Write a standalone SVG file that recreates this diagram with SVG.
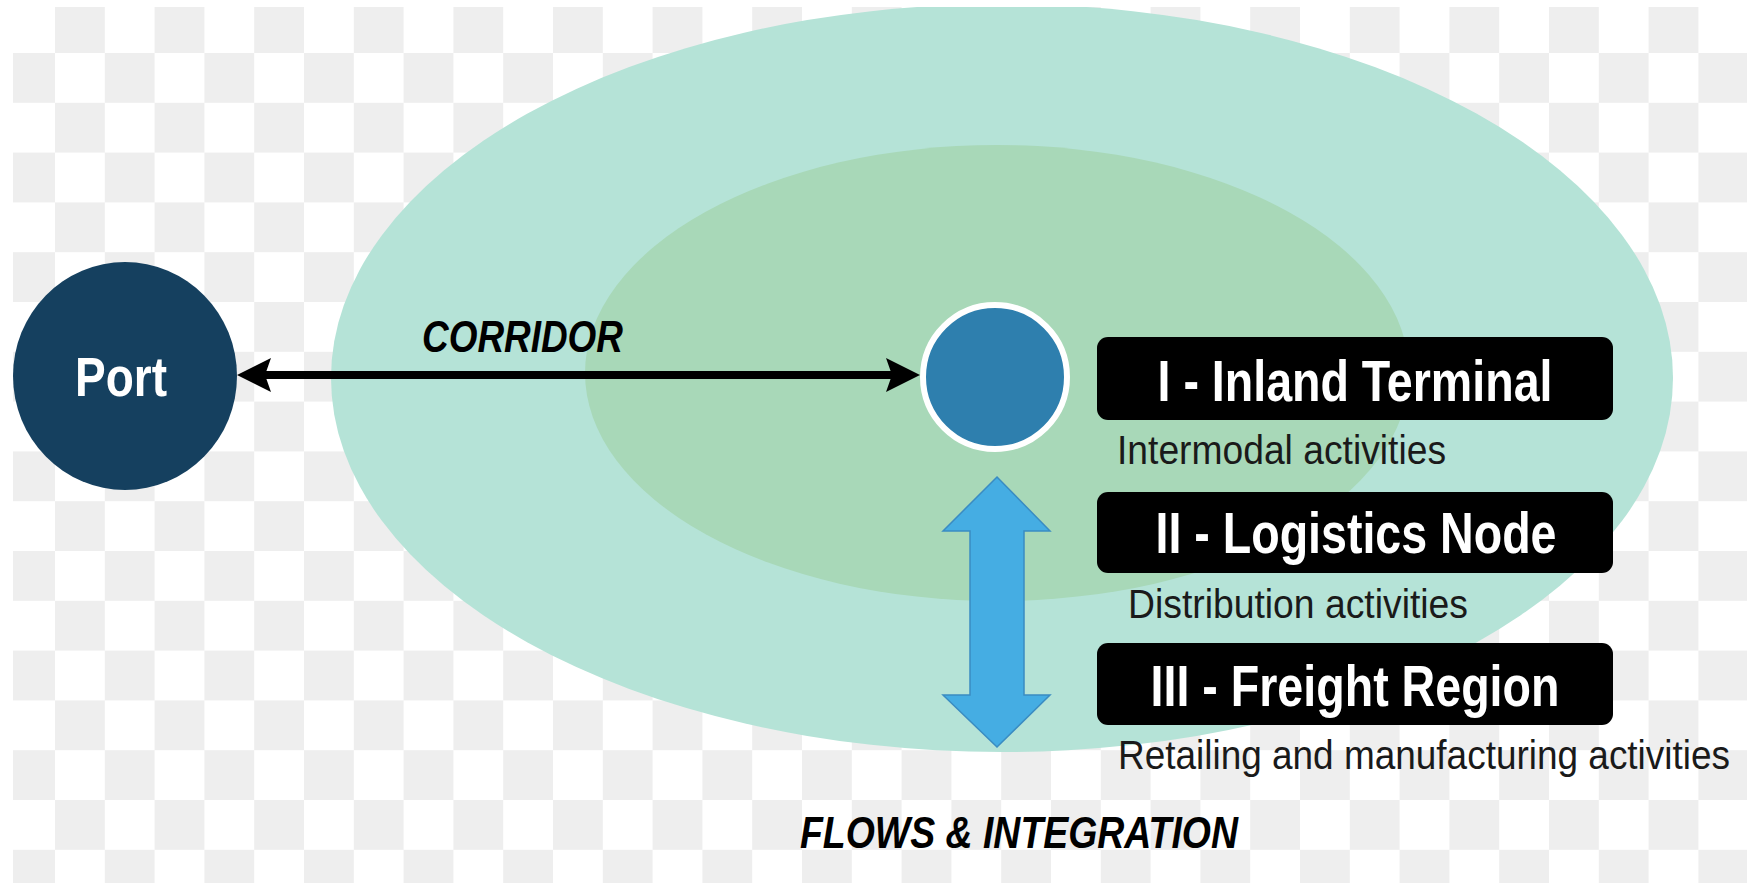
<svg xmlns="http://www.w3.org/2000/svg" width="1747" height="883" viewBox="0 0 1747 883">
  <defs>
    <pattern id="checker" patternUnits="userSpaceOnUse" x="5.2" y="3.2" width="99.6" height="99.6">
      <rect x="0" y="0" width="99.6" height="99.6" fill="#ffffff"/>
      <rect x="49.8" y="0" width="49.8" height="49.8" fill="#eeeeee"/>
      <rect x="0" y="49.8" width="49.8" height="49.8" fill="#eeeeee"/>
    </pattern>
    <clipPath id="frame">
      <rect x="13" y="7" width="1734" height="876"/>
    </clipPath>
    <marker id="head" viewBox="0 0 34 34" refX="14" refY="17" markerWidth="34" markerHeight="34" markerUnits="userSpaceOnUse" orient="auto-start-reverse">
      <path d="M0,0 L34,17 L0,34 L6,17 Z" fill="#000000"/>
    </marker>
    <style>
      .label { font-family: "Liberation Sans", Arial, sans-serif; }
      .hdr { font-family: "Liberation Sans", Arial, sans-serif; font-weight: bold; font-size: 57px; fill: #ffffff; }
      .sub { font-family: "Liberation Sans", Arial, sans-serif; font-size: 40px; fill: #1a1a1a; }
      .ital { font-family: "Liberation Sans", Arial, sans-serif; font-weight: bold; font-style: italic; font-size: 45px; fill: #000000; }
      .box { fill: #000000; }
    </style>
  </defs>

  <rect x="0" y="0" width="1747" height="883" fill="#ffffff"/>
  <g clip-path="url(#frame)">
    <rect x="0" y="0" width="1747" height="883" fill="url(#checker)"/>

    <g id="freight-region-zone">
      <ellipse cx="1002" cy="378" rx="671" ry="374" fill="#b5e3d7"/>
    </g>
    <g id="logistics-node-zone">
      <ellipse cx="997" cy="373" rx="412" ry="228" fill="#a8d8b8"/>
    </g>

    <g id="port">
      <ellipse cx="125" cy="376" rx="112" ry="114" fill="#15405f"/>
      <text class="label" x="121" y="396" font-size="56" font-weight="bold" fill="#ffffff" text-anchor="middle" textLength="92" lengthAdjust="spacingAndGlyphs">Port</text>
    </g>

    <g id="inland-node">
      <circle cx="995" cy="377" r="72" fill="#2e7fae" stroke="#ffffff" stroke-width="6"/>
    </g>

    <g id="connectors">
      <line x1="257" y1="375" x2="900" y2="375" stroke="#000000" stroke-width="8" marker-start="url(#head)" marker-end="url(#head)"/>
      <polygon points="997,477 1050,531 1024,531 1024,695 1050,695 997,747 943,695 970,695 970,531 943,531" fill="#45ade3" stroke="#3a8cc2" stroke-width="1.5" stroke-linejoin="miter"/>
    </g>

    <g id="corridor-label">
      <text class="ital" x="422" y="352" textLength="201" lengthAdjust="spacingAndGlyphs">CORRIDOR</text>
    </g>

    <g id="inland-terminal">
      <rect class="box" x="1097" y="337" width="516" height="83" rx="11"/>
      <text class="hdr" x="1355" y="401" text-anchor="middle" textLength="395" lengthAdjust="spacingAndGlyphs">I - Inland Terminal</text>
      <text class="sub" x="1117" y="464" textLength="329" lengthAdjust="spacingAndGlyphs">Intermodal activities</text>
    </g>

    <g id="logistics-node">
      <rect class="box" x="1097" y="492" width="516" height="81" rx="11"/>
      <text class="hdr" x="1356" y="553" text-anchor="middle" textLength="401" lengthAdjust="spacingAndGlyphs">II - Logistics Node</text>
      <text class="sub" x="1128" y="618" textLength="340" lengthAdjust="spacingAndGlyphs">Distribution activities</text>
    </g>

    <g id="freight-region">
      <rect class="box" x="1097" y="643" width="516" height="82" rx="11"/>
      <text class="hdr" x="1355" y="706" text-anchor="middle" textLength="409" lengthAdjust="spacingAndGlyphs">III - Freight Region</text>
      <text class="sub" x="1118" y="769" textLength="612" lengthAdjust="spacingAndGlyphs">Retailing and manufacturing activities</text>
    </g>

    <g id="flows-label">
      <text class="ital" x="800" y="848" textLength="438" lengthAdjust="spacingAndGlyphs">FLOWS &amp; INTEGRATION</text>
    </g>
  </g>
</svg>
